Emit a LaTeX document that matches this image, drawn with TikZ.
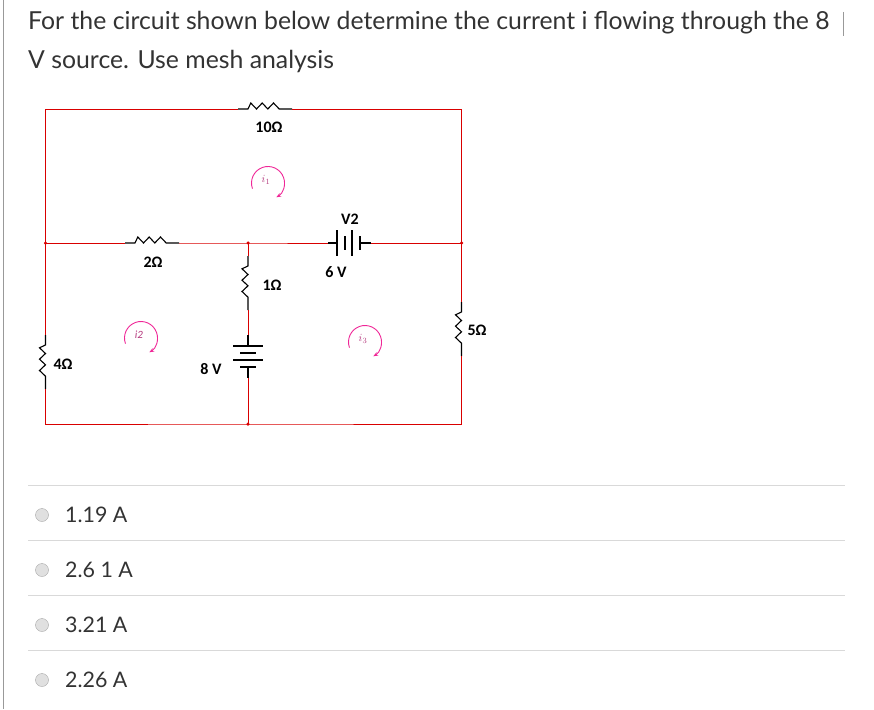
\documentclass[tikz,border=0pt]{standalone}
\usepackage{fontspec}
\usetikzlibrary{arrows.meta}
\setmainfont{Lato}
\newfontfamily\cf{Carlito}
\newcommand\myhres[2]{\draw[comp] (#1-27,#2)--(#1-17,#2)--(#1-14.2,#2-6)--(#1-8.5,#2)--(#1-2.8,#2-6)--(#1+2.8,#2)--(#1+8.5,#2-6)--(#1+14.2,#2)--(#1+17,#2)--(#1+27,#2);}
\newcommand\myvres[2]{\draw[comp] (#1,#2-27)--(#1,#2-17)--(#1-6,#2-14.2)--(#1,#2-8.5)--(#1-6,#2-2.8)--(#1,#2+2.8)--(#1-6,#2+8.5)--(#1,#2+14.2)--(#1,#2+17)--(#1,#2+27);}
\begin{document}
\begin{tikzpicture}[x=1pt,y=-1pt,
 wire/.style={draw=red!85!black, line width=1pt},
 comp/.style={draw=black, line width=1.1pt},
 lab/.style={font=\cf\bfseries\fontsize{16}{16}\selectfont, text=black, inner sep=0},
 loop/.style={draw=magenta!80!pink, line width=0.9pt, -{Stealth[length=5pt]}},
 looplab/.style={font=\cf\itshape\fontsize{11}{11}\selectfont, text=magenta!70!black, inner sep=0},
 dot/.style={circle, fill=red!85!black, inner sep=0, minimum size=3.5pt},
 opt/.style={font=\fontsize{21.4}{21.4}\selectfont, text=black!80, anchor=west, inner sep=0},
 radio/.style={circle, draw=black!35, fill=black!12, minimum size=13pt, inner sep=0},
 sep/.style={draw=black!15, line width=0.8pt}
]
\useasboundingbox (0,0) rectangle (874,709);
\draw[black!40, line width=1pt] (3,0)--(3,709);
\draw[black!40] (843,12)--(843,36);
\node[anchor=base west, inner sep=0, font=\fontsize{24.8}{24.8}\selectfont, text=black!80] (q1) at (28,30) {For the circuit shown below determine the current i flowing through the 8};
\node[anchor=base west, inner sep=0, font=\fontsize{24.8}{24.8}\selectfont, text=black!80] (q2) at (28,68) {V source. Use mesh analysis};
\coordinate (TL) at (45.5,109); \coordinate (TR) at (461.5,109);
\coordinate (ML) at (45.5,243); \coordinate (MC) at (248,243); \coordinate (MR) at (461.5,243);
\coordinate (BL) at (45.5,424); \coordinate (BC) at (248,424); \coordinate (BR) at (461.5,424);
\myhres{265}{109} \coordinate (r10a) at (238,109); \coordinate (r10b) at (292,109);
\myhres{152}{243} \coordinate (r2a) at (125,243); \coordinate (r2b) at (179,243);
\myvres{248}{283} \coordinate (r1a) at (248,256); \coordinate (r1b) at (248,310);
\myvres{45.5}{362} \coordinate (r4a) at (45.5,335); \coordinate (r4b) at (45.5,389);
\myvres{461.5}{329} \coordinate (r5a) at (461.5,302); \coordinate (r5b) at (461.5,356);
\coordinate (v2a) at (328,243); \coordinate (v2b) at (371,243);
\draw[comp] (v2a)--(337,243) (360,243)--(v2b);
\draw[comp] (337,230)--(337,256) (345,236)--(345,250) (352,230)--(352,256) (360,236)--(360,250);
\coordinate (b8a) at (248,335); \coordinate (b8b) at (248,378);
\draw[comp] (b8a)--(248,346) (248,367)--(b8b);
\draw[comp] (233,346)--(263,346) (240,353)--(256,353) (233,360)--(263,360) (240,367)--(256,367);
\draw[wire] (TL)--(r10a) (r10b)--(TR)--(MR)--(r5a) (r5b)--(BR)--(BC)--(BL)--(r4b) (r4a)--(ML)--(TL);
\draw[wire] (ML)--(r2a) (r2b)--(MC)--(v2a) (v2b)--(MR);
\draw[wire] (MC)--(r1a) (r1b)--(b8a) (b8b)--(BC);
\foreach \p in {ML,MC,MR,BC} \node[dot] at (\p) {};
\node[lab] (l10) at (269,127) {10Ω};
\node[lab] (l2) at (153,262) {2Ω};
\node[lab] (l1) at (272,285) {1Ω};
\node[lab] (l4) at (63,364) {4Ω};
\node[lab] (l5) at (477,330) {5Ω};
\node[lab] (lv2) at (350,219) {V2};
\node[lab] (l6) at (336,272) {6 V};
\node[lab] (l8) at (211,369) {8 V};
\foreach \n/\x/\y/\t in {a/268/183/{$i_1$}, b/141/338/{i2}, c/365/342/{$i_3$}}{
  \draw[loop] (\x,\y) ++(160:16.5) arc[start angle=160, end angle=420, radius=16.5];
  \node[looplab] at (\x-2,\y-3) {\t};
}
\foreach \yy in {485,540,595,650} \draw[sep] (28,\yy)--(845,\yy);
\foreach \yy/\t/\nm in {515/{1.19 A}/o1, 570/{2.6 1 A}/o2, 625/{3.21 A}/o3, 680/{2.26 A}/o4}{
  \node[radio] at (42,\yy) {};
  \node[opt] (\nm) at (65,\yy) {\t};
}
\end{tikzpicture}
\end{document}
